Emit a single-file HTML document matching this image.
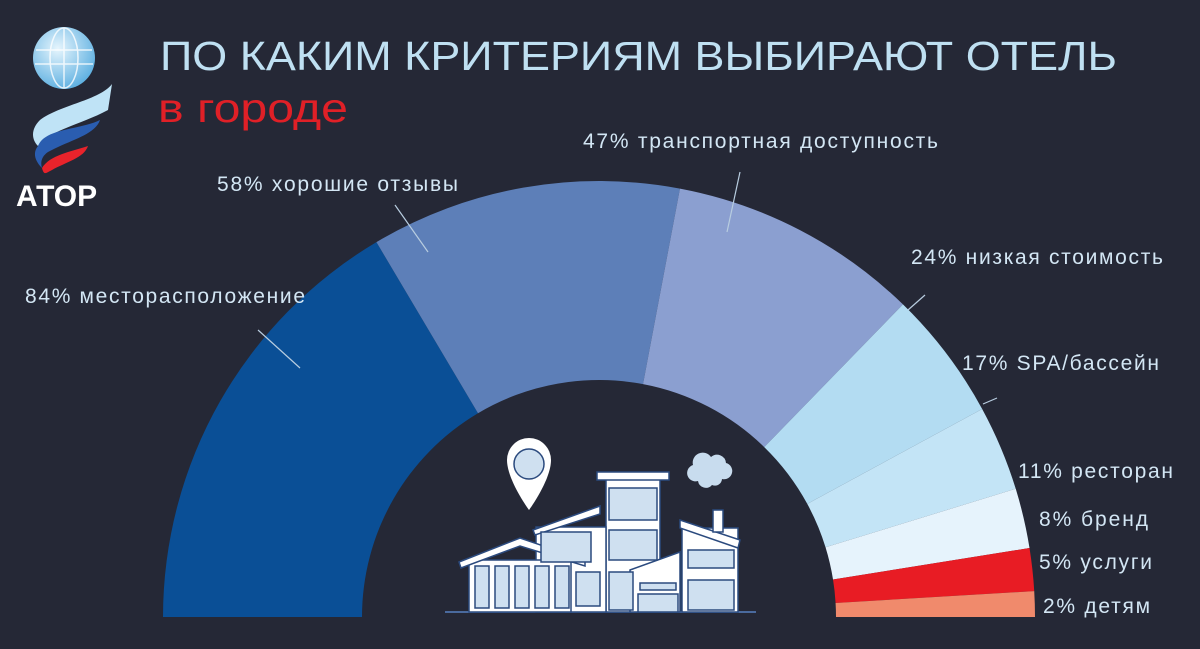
<!DOCTYPE html>
<html><head><meta charset="utf-8"><style>
html,body{margin:0;padding:0;background:#252836;}
svg{display:block}
text{font-family:"Liberation Sans","DejaVu Sans",sans-serif;}
</style></head><body>
<svg id="s" width="1200" height="649" viewBox="0 0 1200 649" xmlns="http://www.w3.org/2000/svg">
<rect width="1200" height="649" fill="#252836"/>
<g id="arcs"></g>
<defs><radialGradient id="g1" cx="0.4" cy="0.35" r="0.7"><stop offset="0" stop-color="#e6f5fd"/><stop offset="1" stop-color="#5aaee0"/></radialGradient></defs>
<circle cx="64" cy="58" r="31" fill="url(#g1)"/>
<g stroke="#ffffff" stroke-width="1.5" fill="none" opacity="0.8">
<ellipse cx="64" cy="58" rx="14" ry="30"/><line x1="64" y1="28" x2="64" y2="88"/><line x1="36" y1="50" x2="92" y2="50"/><line x1="35" y1="64" x2="93" y2="64"/>
</g>
<path d="M112 84 C100 100,60 105,40 120 C30 130,32 140,38 146 C50 130,80 125,108 110 Z" fill="#bfe3f6"/>
<path d="M38 146 C45 128,80 130,100 120 C95 135,70 140,48 152 C42 156,40 162,42 168 C34 160,33 152,38 146Z" fill="#2a5db0"/>
<path d="M42 168 C50 155,70 152,88 146 C84 158,66 162,52 170 C46 173,44 176,42 168Z" fill="#e8232b"/>
<text x="16" y="206" fill="#ffffff" font-size="30" font-weight="bold">АТОР</text>
<text x="160" y="70" fill="#bfe0f2" font-size="41" textLength="957" lengthAdjust="spacingAndGlyphs">ПО КАКИМ КРИТЕРИЯМ ВЫБИРАЮТ ОТЕЛЬ</text>
<text x="158" y="122" fill="#e02027" font-size="41" textLength="190" lengthAdjust="spacingAndGlyphs">в городе</text>
<g fill="#d3e6f4" font-size="21">
<text x="25" y="303" textLength="280">84% месторасположение</text>
<text x="217" y="191" textLength="241">58% хорошие отзывы</text>
<text x="583" y="148" textLength="355">47% транспортная доступность</text>
<text x="911" y="264" textLength="252">24% низкая стоимость</text>
<text x="962" y="370" textLength="197">17% SPA/бассейн</text>
<text x="1018" y="478" textLength="155">11% ресторан</text>
<text x="1039" y="526" textLength="109">8% бренд</text>
<text x="1039" y="569" textLength="113">5% услуги</text>
<text x="1043" y="613" textLength="107">2% детям</text>
</g>
<g stroke="#b8cde0" stroke-width="1.2">
<line x1="258" y1="330" x2="300" y2="368"/>
<line x1="395" y1="205" x2="428" y2="252"/>
<line x1="740" y1="172" x2="727" y2="232"/>
<line x1="925" y1="295" x2="908" y2="310"/>
<line x1="997" y1="398" x2="983" y2="404"/>
</g>
<g stroke="#2b4a7e" stroke-width="1.5">
<line x1="445" y1="612" x2="756" y2="612" stroke="#4a6a9e" stroke-width="2"/>
<path d="M507 460 a22 22 0 1 1 44 0 c0 20 -22 50 -22 50 c0 0 -22 -30 -22 -50z" fill="#fff" stroke="none"/>
<circle cx="529" cy="464" r="15" fill="#cfe0f0"/>
<path d="M693 465 a10 10 0 0 1 18 -8 a9 9 0 0 1 15 6 a8 8 0 0 1 -4 16 a7 7 0 0 1 -10 6 a8 8 0 0 1 -14 -4 a8 8 0 0 1 -5 -16z" fill="#c8dcee" stroke="none"/>
<rect x="606" y="478" width="54" height="134" fill="#fff"/>
<rect x="597" y="472" width="72" height="8" fill="#fff"/>
<rect x="536" y="527" width="70" height="85" fill="#fff"/>
<path d="M533 530 L600 506 L600 514 L535 535Z" fill="#fff"/>
<rect x="682" y="528" width="56" height="84" fill="#fff"/>
<path d="M680 520 L740 540 L738 548 L680 528Z" fill="#fff"/>
<rect x="713" y="510" width="10" height="22" fill="#fff"/>
<rect x="469" y="560" width="102" height="52" fill="#fff"/>
<path d="M459 562 L520 538 L585 560 L585 566 L520 546 L461 568Z" fill="#fff"/>
<path d="M630 570 L680 552 L680 612 L630 612Z" fill="#fff"/>
<g fill="#cfe0f0">
<rect x="609" y="488" width="48" height="32"/><rect x="609" y="530" width="48" height="30"/><rect x="609" y="572" width="24" height="38"/>
<rect x="541" y="532" width="50" height="30"/>
<rect x="475" y="566" width="14" height="42"/><rect x="495" y="566" width="14" height="42"/><rect x="515" y="566" width="14" height="42"/><rect x="535" y="566" width="14" height="42"/><rect x="555" y="566" width="14" height="42"/>
<rect x="576" y="572" width="24" height="34"/>
<rect x="688" y="550" width="46" height="18"/><rect x="688" y="580" width="46" height="30"/>
<rect x="640" y="583" width="36" height="7"/><rect x="638" y="594" width="40" height="18"/>
</g>
</g>
</svg>
<script>
var cx=599,cy=617,R=436,r=237;
var b=[180,120.7,79.3,45.8,28.5,17.1,9.1,3.4,0];
var cols=["#0a4f96","#5d7fb8","#8b9fd0","#b3dcf2","#c3e4f6","#e6f3fc","#e81c24","#f08a6c"];
var g=document.getElementById("arcs"),h="";
function p(a,rr){var t=a*Math.PI/180;return (cx+rr*Math.cos(t)).toFixed(2)+" "+(cy-rr*Math.sin(t)).toFixed(2);}
for(var i=0;i<8;i++){var a0=b[i],a1=b[i+1];
h+='<path fill="'+cols[i]+'" d="M'+p(a0,R)+' A'+R+' '+R+' 0 0 1 '+p(a1,R)+' L'+p(a1,r)+' A'+r+' '+r+' 0 0 0 '+p(a0,r)+' Z"/>';}
g.innerHTML=h;
</script>
</body></html>
